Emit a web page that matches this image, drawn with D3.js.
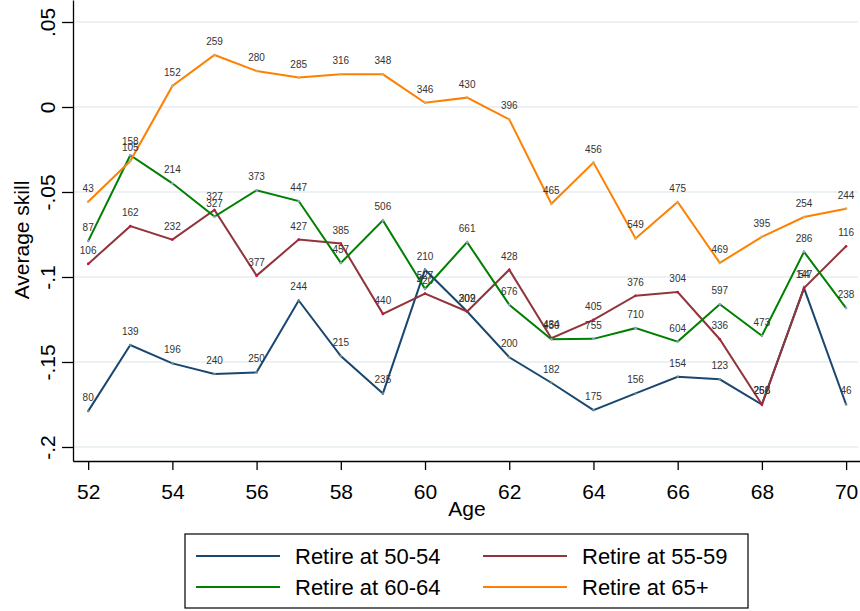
<!DOCTYPE html>
<html>
<head>
<meta charset="utf-8">
<script src="https://cdn.jsdelivr.net/npm/d3@7"></script>
<style>
body { margin: 0; background: #fff; }
svg text { font-family: "Liberation Sans", Arial, Helvetica, sans-serif; }
</style>
</head>
<body>
<div id="chart"></div>
<script>
// ages on the x axis
var ages = [52, 53, 54, 55, 56, 57, 58, 59, 60, 61, 62, 63, 64, 65, 66, 67, 68, 69, 70];

// average skill per retirement group
var skill5054 = [-0.1789, -0.1400, -0.1508, -0.1571, -0.1561, -0.1138, -0.1465, -0.1685, -0.0957, -0.1203,
                 -0.1472, -0.1622, -0.1783, -0.1685, -0.1587, -0.1602, -0.1750, -0.1065, -0.1750];
var skill5559 = [-0.0923, -0.0701, -0.0780, -0.0606, -0.0992, -0.0780, -0.0803, -0.1217, -0.1098, -0.1203,
                 -0.0957, -0.1360, -0.1252, -0.1110, -0.1089, -0.1366, -0.1750, -0.1065, -0.0819];
var skill6064 = [-0.0789, -0.0284, -0.0449, -0.0645, -0.0490, -0.0553, -0.0917, -0.0667, -0.1069, -0.0795,
                 -0.1163, -0.1366, -0.1364, -0.1301, -0.1380, -0.1160, -0.1346, -0.0852, -0.1183];
var skill65 = [-0.0557, -0.0318, 0.0124, 0.0306, 0.0212, 0.0173, 0.0192, 0.0192, 0.0025, 0.0055,
               -0.0073, -0.0569, -0.0327, -0.0773, -0.0559, -0.0917, -0.0764, -0.0647, -0.0598];

// number of observations shown above each point
var count5054 = [80, 139, 196, 240, 250, 244, 215, 235, 210, 209, 200, 182, 175, 156, 154, 123, 258, 54, 46];
var count5559 = [106, 162, 232, 327, 377, 427, 385, 440, 420, 302, 428, 434, 405, 376, 304, 336, 266, 147, 116];
var count6064 = [87, 158, 214, 327, 373, 447, 457, 506, 527, 661, 676, 450, 755, 710, 604, 597, 473, 286, 238];
var count65 = [43, 105, 152, 259, 280, 285, 316, 348, 346, 430, 396, 465, 456, 549, 475, 469, 395, 254, 244];

var groupNames = ['Retire at 50-54', 'Retire at 55-59', 'Retire at 60-64', 'Retire at 65+'];

var yTicks = [-0.2, -0.15, -0.1, -0.05, 0, 0.05];
var yTickLabels = ['-.2', '-.15', '-.1', '-.05', '0', '.05'];
var xTicks = [52, 54, 56, 58, 60, 62, 64, 66, 68, 70];

var width = 860, height = 611;

var series = [
	{ name: groupNames[0], values: skill5054, counts: count5054, color: '#1a476f', dot: '#6f9080' },
	{ name: groupNames[1], values: skill5559, counts: count5559, color: '#90353b', dot: '#d0103a' },
	{ name: groupNames[2], values: skill6064, counts: count6064, color: '#008000', dot: '#9a9ae0' },
	{ name: groupNames[3], values: skill65, counts: count65, color: '#ff8000', dot: '#c8b070' }
];

var svg = d3.select('#chart').append('svg')
	.attr('width', width)
	.attr('height', height);

var x = d3.scaleLinear().domain([51.64, 70.33]).range([73, 860]);
var y = d3.scaleLinear().domain([-0.20824, 0.06294]).range([461, 0]);

// grid
svg.append('g').selectAll('line')
	.data(yTicks)
	.join('line')
	.attr('x1', 73).attr('x2', 858)
	.attr('y1', function(d) { return y(d); })
	.attr('y2', function(d) { return y(d); })
	.attr('stroke', '#e6eef1')
	.attr('stroke-width', 1.3);

// y axis
var yAxis = svg.append('g')
	.attr('transform', 'translate(73,0)')
	.call(d3.axisLeft(y).tickValues(yTicks).tickSize(11).tickSizeOuter(0)
		.tickFormat(function(d, i) { return yTickLabels[i]; }));
yAxis.selectAll('text')
	.attr('x', 0).attr('y', -18).attr('dy', null)
	.attr('transform', 'rotate(-90)')
	.attr('text-anchor', 'middle')
	.attr('font-size', 21)
	.attr('fill', '#000');

// x axis
var xAxis = svg.append('g')
	.attr('transform', 'translate(0,461)')
	.call(d3.axisBottom(x).tickValues(xTicks).tickSize(9).tickSizeOuter(0));
xAxis.selectAll('text')
	.attr('y', 38).attr('dy', null)
	.attr('font-size', 21)
	.attr('fill', '#000');

svg.selectAll('.domain, .tick line').attr('stroke', '#000').attr('stroke-width', 1.3);

// axis titles
svg.append('text')
	.attr('transform', 'translate(29,240) rotate(-90)')
	.attr('text-anchor', 'middle')
	.attr('font-size', 21)
	.text('Average skill');
svg.append('text')
	.attr('x', 467).attr('y', 516)
	.attr('text-anchor', 'middle')
	.attr('font-size', 21)
	.text('Age');

var line = d3.line()
	.x(function(d, i) { return x(ages[i]); })
	.y(function(d) { return y(d); });

series.forEach(function(s) {
	var g = svg.append('g');
	g.append('path')
		.attr('d', line(s.values))
		.attr('fill', 'none')
		.attr('stroke', s.color)
		.attr('stroke-width', 2);
	g.selectAll('circle')
		.data(s.values)
		.join('circle')
		.attr('cx', function(d, i) { return x(ages[i]); })
		.attr('cy', function(d) { return y(d); })
		.attr('r', 1.3)
		.attr('fill', s.dot);
	g.selectAll('text')
		.data(s.values)
		.join('text')
		.attr('x', function(d, i) { return x(ages[i]); })
		.attr('y', function(d) { return y(d) - 10; })
		.attr('text-anchor', 'middle')
		.attr('font-size', 10)
		.attr('fill', '#333')
		.text(function(d, i) { return s.counts[i]; });
});

// legend
var legend = svg.append('g');
legend.append('rect')
	.attr('x', 185).attr('y', 534)
	.attr('width', 563).attr('height', 74)
	.attr('fill', '#fff')
	.attr('stroke', '#000')
	.attr('stroke-width', 1.2);

var item = legend.selectAll('g.item')
	.data(series)
	.join('g')
	.attr('class', 'item')
	.attr('transform', function(d, i) {
		return 'translate(' + (i % 2 ? 483 : 196) + ',' + (i < 2 ? 556 : 587) + ')';
	});
item.append('line')
	.attr('x1', 0).attr('x2', 84)
	.attr('stroke', function(d) { return d.color; })
	.attr('stroke-width', 2);
item.append('text')
	.attr('x', 99).attr('y', 8)
	.attr('font-size', 22)
	.text(function(d) { return d.name; });
</script>
</body>
</html>
